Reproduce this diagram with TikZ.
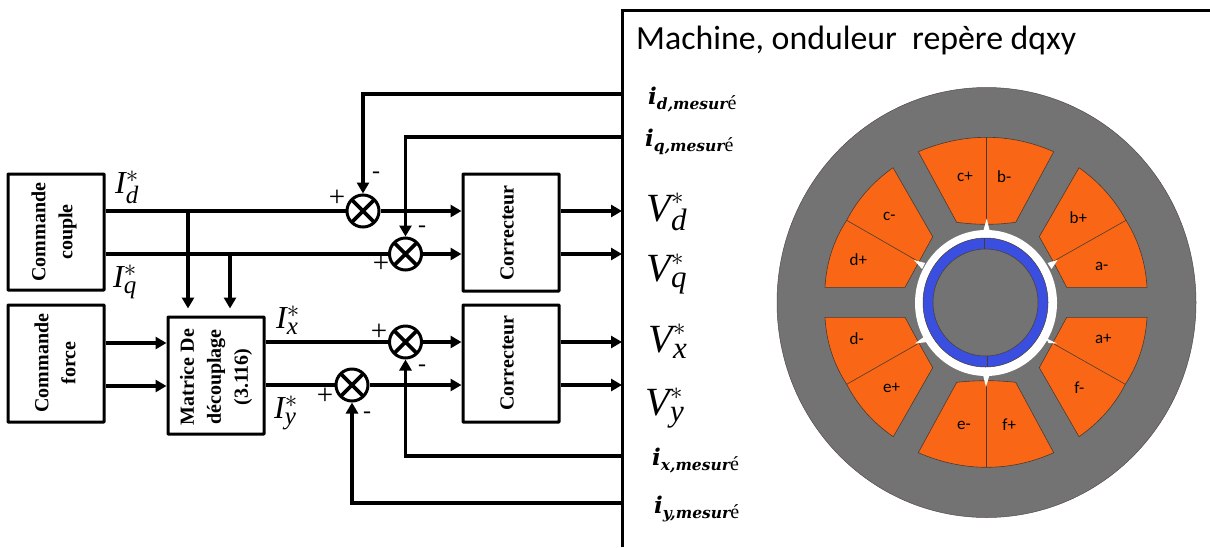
\documentclass[tikz,border=0pt]{standalone}
\usepackage{amsmath}
\usepackage{fontspec}
\setmainfont{Liberation Serif}
\newfontfamily\carl{Carlito}
\newfontfamily\dvs{DejaVu Serif}
\usetikzlibrary{arrows.meta,calc}
\DeclareMathSizes{40}{40}{31}{24}
\DeclareMathSizes{32}{32}{25}{20}
\newcommand\starlab[2]{$\text{\itshape #1}_{\text{\itshape #2}}^{*}$}
\newcommand\meas[1]{{\dvs\bfseries\itshape\fontsize{23}{23}\selectfont i}\raisebox{-5pt}{{\dvs\bfseries\itshape\fontsize{15.5}{16}\selectfont #1,mesur}{\fontsize{20}{20}\selectfont é}}}
\definecolor{ironc}{HTML}{737373}
\definecolor{slotc}{HTML}{F96716}
\definecolor{magc}{HTML}{3A4FE0}
\definecolor{edgec}{HTML}{4A3A30}
\tikzset{
  blockbox/.style={draw=black,line width=3pt,minimum width=96pt,minimum height=116pt,inner sep=0pt,rounded corners=0.5pt},
  blocktext/.style={rotate=90,align=center,font=\fontsize{20}{27}\selectfont\bfseries,inner sep=0pt},
  wire/.style={line width=3.8pt},
  arrowwire/.style={wire,-{Triangle[length=11pt,width=12pt]}},
  sumnode/.style={circle,draw=black,line width=3pt,minimum size=32pt,inner sep=0pt,
    path picture={\draw[line width=3.6pt] (path picture bounding box.north west)--(path picture bounding box.south east)
      (path picture bounding box.north east)--(path picture bounding box.south west);}},
  pluslab/.style={font=\fontsize{29}{29}\selectfont,inner sep=0pt},
  minuslab/.style={font=\fontsize{24}{24}\selectfont,inner sep=0pt},
  curlab/.style={font=\fontsize{32}{32}\selectfont,inner sep=0pt},
  vlab/.style={font=\fontsize{40}{40}\selectfont,inner sep=0pt},
  measlab/.style={inner sep=0pt},
  slot/.style={fill=slotc,draw=edgec,line width=0.6pt},
  divider/.style={draw=edgec,line width=0.6pt},
  tooth/.style={fill=white,draw=none},
  slotlab/.style={font=\carl\fontsize{17}{17}\selectfont,inner sep=0pt,text=black},
}
\begin{document}
\begin{tikzpicture}[x=1pt,y=-1pt]
\useasboundingbox (0,0) rectangle (1210,547);
\fill[white] (0,0) rectangle (1210,547);

% machine panel
\node[inner sep=0pt,minimum width=588pt,minimum height=537pt,anchor=north west] (machine) at (622,10) {};
\draw[line width=3pt] (machine.south west) -- (machine.north west) -- (machine.north east);
\node[anchor=west,inner sep=0pt,font=\carl\fontsize{33.8}{34}\selectfont] (title) at (636,40) {Machine, onduleur\ \ repère dqxy};

% motor
\fill[ironc,draw=edgec!70!ironc,line width=0.5pt] (986.5,302.5) ellipse [x radius=209.5pt,y radius=215pt];
% top slot
\draw[slot] (918.3,151.7) .. controls (941.1,142.1) and (963.9,137.3) .. (986.7,137.3) .. controls (1009.5,137.3) and (1031.8,142.1) .. (1053.7,151.7)
  -- (1015.7,222.3) .. controls (1005.9,223.6) and (996.5,224.3) .. (986.7,224.3) .. controls (976.7,224.3) and (966.7,223.6) .. (956.7,222.3) -- cycle;
\draw[divider] (986.7,137.3) -- (986.7,224.3);
% top right slot
\draw[slot] (1079,167.7) .. controls (1098.8,181.7) and (1114.5,199.2) .. (1126,220.3) .. controls (1138.7,240.8) and (1145.7,263.2) .. (1147,287.3)
  -- (1066.7,287.3) -- (1053.3,261.7) -- (1039.3,236.7) -- cycle;
\draw[divider] (1126,220.3) -- (1054,261);
% top left slot
\draw[slot] (893,167.7) .. controls (873.2,181.7) and (857.5,199.2) .. (846.7,220.3) .. controls (833.3,240.8) and (826.3,263.2) .. (825,287.3)
  -- (905,287.3) -- (918.3,263) -- (932.7,236.7) -- cycle;
\draw[divider] (846.7,220.3) -- (917.5,261);
% bottom left slot
\draw[slot] (825,317.3) .. controls (826.3,341.4) and (833.3,363.8) .. (846.7,384.3) .. controls (857.5,405.4) and (873.2,422.9) .. (893.3,436.7)
  -- (932.7,367.7) -- (918.3,342) -- (905,317.3) -- cycle;
\draw[divider] (846.7,384.3) -- (917.5,344);
% bottom right slot
\draw[slot] (1147,317.3) .. controls (1145.7,341.4) and (1138.7,363.8) .. (1125.3,384.3) .. controls (1114.5,405.4) and (1098.8,422.9) .. (1079,436.7)
  -- (1039.3,367.7) -- (1053.3,342) -- (1066.7,317.3) -- cycle;
\draw[divider] (1125.3,384.3) -- (1054,344);
% bottom slot
\draw[slot] (918.3,452.7) .. controls (941.1,462.5) and (963.9,467.3) .. (986.7,467.3) .. controls (1009.5,467.3) and (1031.8,462.5) .. (1053.7,452.7)
  -- (1015.7,382.3) .. controls (1005.9,381.2) and (996.5,380.7) .. (986.7,380.7) .. controls (976.7,380.7) and (966.7,381.2) .. (956.7,382.3) -- cycle;
\draw[divider] (986.7,467.3) -- (986.7,380.7);
% air gap and teeth tips
\fill[white] (986,303) ellipse [x radius=71pt,y radius=73pt];
\fill[tooth] (986.7,218.5) -- (990,232) -- (983,232) -- cycle;
\fill[tooth] (1057.5,260) -- (1051.5,269) -- (1047.5,263) -- cycle;
\fill[tooth] (914,260) -- (925,263) -- (922,269) -- cycle;
\fill[tooth] (986,387) -- (983,375) -- (989.5,375) -- cycle;
\fill[tooth] (915,343.5) -- (925,336) -- (927,342) -- cycle;
\fill[tooth] (1057,343.5) -- (1046,338) -- (1048.5,343) -- cycle;
% rotor
\fill[magc,draw=edgec,line width=0.5pt] (985.5,302.5) ellipse [x radius=62.5pt,y radius=64.5pt];
\fill[ironc,draw=edgec,line width=0.5pt] (985.5,302.5) ellipse [x radius=52.5pt,y radius=53.5pt];
\draw[divider] (984.3,238) -- (984.3,249);
\draw[divider] (987.3,356) -- (987.3,367);
% slot labels
\node[slotlab] (lcp) at (965,177) {c+};
\node[slotlab] (lbm) at (1004.3,177) {b-};
\node[slotlab] (lcm) at (889.3,216) {c-};
\node[slotlab] (lbp) at (1078.3,218) {b+};
\node[slotlab] (ldp) at (858.3,260) {d+};
\node[slotlab] (lam) at (1101.7,266) {a-};
\node[slotlab] (ldm) at (856.7,338.5) {d-};
\node[slotlab] (lap) at (1103.3,338.5) {a+};
\node[slotlab] (lep) at (891.7,387.5) {e+};
\node[slotlab] (lfm) at (1079.3,387.5) {f-};
\node[slotlab] (lem) at (964,425) {e-};
\node[slotlab] (lfp) at (1009.3,424.5) {f+};

% blocks
\node[blockbox] (couple) at (56,232) {};
\node[blocktext] (tcouple) at (54,232) {Commande\\couple};
\node[blockbox,minimum height=117pt] (force) at (56,363.5) {};
\node[blocktext] (tforce) at (55,363) {Commande\\force};
\node[blockbox,minimum height=117pt] (matrice) at (216,375.5) {};
\node[blocktext] (tmatrice) at (216,377) {Matrice De\\découplage\\(3.116)};
\node[blockbox,minimum height=117pt] (corr1) at (511,232.5) {};
\node[blocktext] (tcorr1) at (507,233) {Correcteur};
\node[blockbox,minimum height=117pt] (corr2) at (511,363.5) {};
\node[blocktext] (tcorr2) at (507,363) {Correcteur};

% summing junctions
\node[sumnode] (s1) at (363,211) {};
\node[sumnode] (s2) at (405.5,254) {};
\node[sumnode] (s3) at (405.5,342) {};
\node[sumnode] (s4) at (352,385) {};

% connector points
\coordinate (fbd) at ($(machine.north west)+(0,84)$);
\coordinate (fbq) at ($(machine.north west)+(0,127)$);
\coordinate (fbx) at ($(machine.north west)+(0,446)$);
\coordinate (fby) at ($(machine.north west)+(0,493)$);
\coordinate (jd) at (188,211);
\coordinate (jq) at (230,254);
\coordinate (fa) at (104,343);
\coordinate (fb) at (104,386);

% forward wires
\draw[wire] (couple.east |- s1) -- (s1.west);
\draw[wire] (couple.east |- s2) -- (s2.west);
\draw[arrowwire] (s1.east) -- (corr1.west |- s1);
\draw[arrowwire] (s2.east) -- (corr1.west |- s2);
\draw[arrowwire,shorten >=7pt] (jd) -- (jd |- matrice.north);
\draw[arrowwire,shorten >=7pt] (jq) -- (jq |- matrice.north);
\draw[arrowwire] (fa -| force.east) -- (fa -| matrice.west);
\draw[arrowwire] (fb -| force.east) -- (fb -| matrice.west);
\draw[wire] (matrice.east |- s3) -- (s3.west);
\draw[wire] (matrice.east |- s4) -- (s4.west);
\draw[arrowwire] (s3.east) -- (corr2.west |- s3);
\draw[arrowwire] (s4.east) -- (corr2.west |- s4);
\draw[arrowwire] (corr1.east |- s1) -- (machine.west |- s1);
\draw[arrowwire] (corr1.east |- s2) -- (machine.west |- s2);
\draw[arrowwire] (corr2.east |- s3) -- (machine.west |- s3);
\draw[arrowwire] (corr2.east |- s4) -- (machine.west |- s4);

% feedback wires
\draw[arrowwire] (fbd) -| (s1.north);
\draw[arrowwire] (fbq) -| (s2.north);
\draw[arrowwire] (fbx) -| (s3.south);
\draw[arrowwire] (fby) -| (s4.south);

% signs
\node[pluslab] (p1) at (337,198) {+};
\node[minuslab] (m1) at (376,175) {-};
\node[pluslab] (p2) at (381,264) {+};
\node[minuslab] (m2) at (422,229) {-};
\node[pluslab] (p3) at (379,332) {+};
\node[minuslab] (m3) at (422,368) {-};
\node[pluslab] (p4) at (325,396) {+};
\node[minuslab] (m4) at (367,415) {-};

% current labels
\node[curlab] (lid) at (127,187) {\starlab{I}{d}};
\node[curlab] (liq) at (125,282) {\starlab{I}{q}};
\node[curlab] (lix) at (288,320) {\starlab{I}{x}};
\node[curlab] (liy) at (286,413) {\starlab{I}{y}};
% voltage labels
\node[vlab] (lvd) at (667,212) {\starlab{V}{d}};
\node[vlab] (lvq) at (667,274) {\starlab{V}{q}};
\node[vlab] (lvx) at (668,341) {\starlab{V}{x}};
\node[vlab] (lvy) at (665,408) {\starlab{V}{y}};
% measured labels
\node[measlab,anchor=west] (lmd) at (648,100) {\meas{d}};
\node[measlab,anchor=west] (lmq) at (645,142) {\meas{q}};
\node[measlab,anchor=west] (lmx) at (652,461) {\meas{x}};
\node[measlab,anchor=west] (lmy) at (654,509) {\meas{y}};
\end{tikzpicture}
\end{document}
